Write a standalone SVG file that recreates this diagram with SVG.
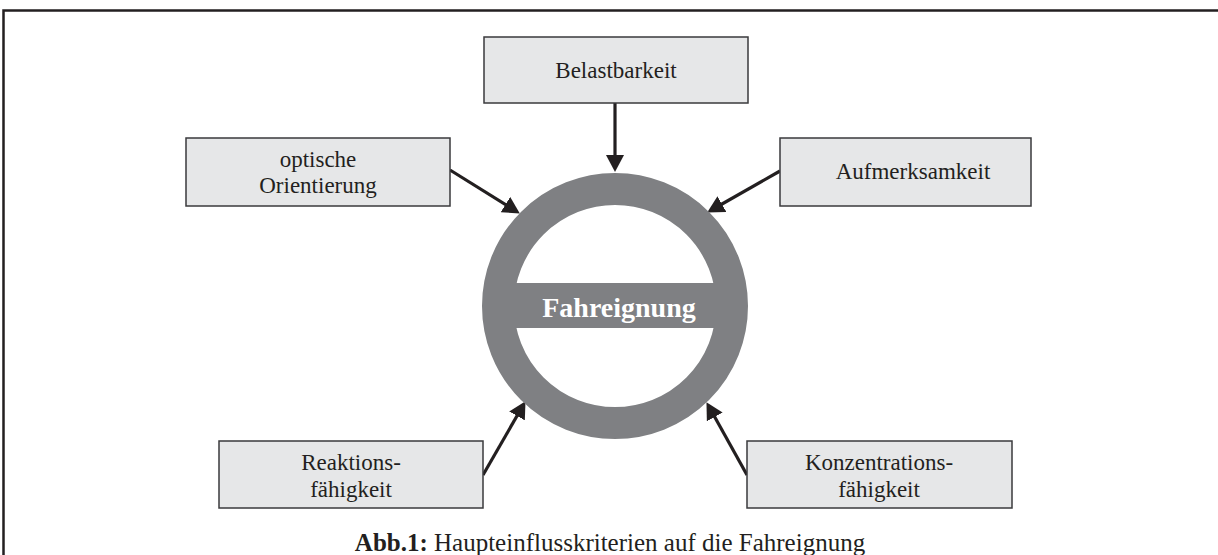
<svg xmlns="http://www.w3.org/2000/svg" width="1218" height="555" viewBox="0 0 1218 555">
<defs>
<style>
.box{fill:#e6e7e8;stroke:#3a3a3c;stroke-width:1.5}
.t{font-family:"Liberation Serif","Times New Roman",serif;font-size:23px;fill:#231f20;text-anchor:middle}
.conn{stroke:#231f20;stroke-width:3.2;fill:none;marker-end:url(#ah)}
.frame{stroke:#231f20;stroke-width:2.5;fill:none}
</style>
<marker id="ah" markerUnits="userSpaceOnUse" markerWidth="17" markerHeight="18" refX="12" refY="9" orient="auto">
<path d="M0,0 L17,9 L0,18 z" fill="#231f20"/>
</marker>
</defs>
<rect width="1218" height="555" fill="#ffffff"/>
<path class="frame" d="M3.5,555 L3.5,10.5 L1218,10.5"/>
<g id="connectors">
<line class="conn" x1="615" y1="103" x2="615" y2="167"/>
<line class="conn" x1="450" y1="170" x2="515.6" y2="210.9"/>
<line class="conn" x1="780" y1="171" x2="711.5" y2="210"/>
<line class="conn" x1="483" y1="475" x2="523" y2="405.5"/>
<line class="conn" x1="747" y1="475" x2="708.9" y2="406.5"/>
</g>
<g id="center">
<circle cx="615" cy="306" r="117" fill="none" stroke="#7f8083" stroke-width="32"/>
<rect x="505" y="283" width="220" height="45" fill="#7f8083"/>
<text x="619" y="317" font-family="Liberation Serif,'Times New Roman',serif" font-size="28" font-weight="bold" fill="#ffffff" text-anchor="middle">Fahreignung</text>
</g>
<g id="belastbarkeit">
<rect class="box" x="484" y="37" width="264" height="66"/>
<text class="t" x="616" y="78">Belastbarkeit</text>
</g>
<g id="optische">
<rect class="box" x="186" y="138" width="264" height="68"/>
<text class="t" x="318" y="167">optische</text>
<text class="t" x="318" y="193">Orientierung</text>
</g>
<g id="aufmerksamkeit">
<rect class="box" x="780" y="138" width="251" height="68"/>
<text class="t" x="913" y="179">Aufmerksamkeit</text>
</g>
<g id="reaktion">
<rect class="box" x="219" y="441" width="264" height="67"/>
<text class="t" x="351" y="470">Reaktions-</text>
<text class="t" x="351" y="497">fähigkeit</text>
</g>
<g id="konzentration">
<rect class="box" x="747" y="441" width="265" height="67"/>
<text class="t" x="879" y="470">Konzentrations-</text>
<text class="t" x="879" y="497">fähigkeit</text>
</g>
<text x="610" y="551" font-family="Liberation Serif,'Times New Roman',serif" font-size="25" fill="#231f20" text-anchor="middle"><tspan font-weight="bold">Abb.1:</tspan> Haupteinflusskriterien auf die Fahreignung</text>
</svg>
